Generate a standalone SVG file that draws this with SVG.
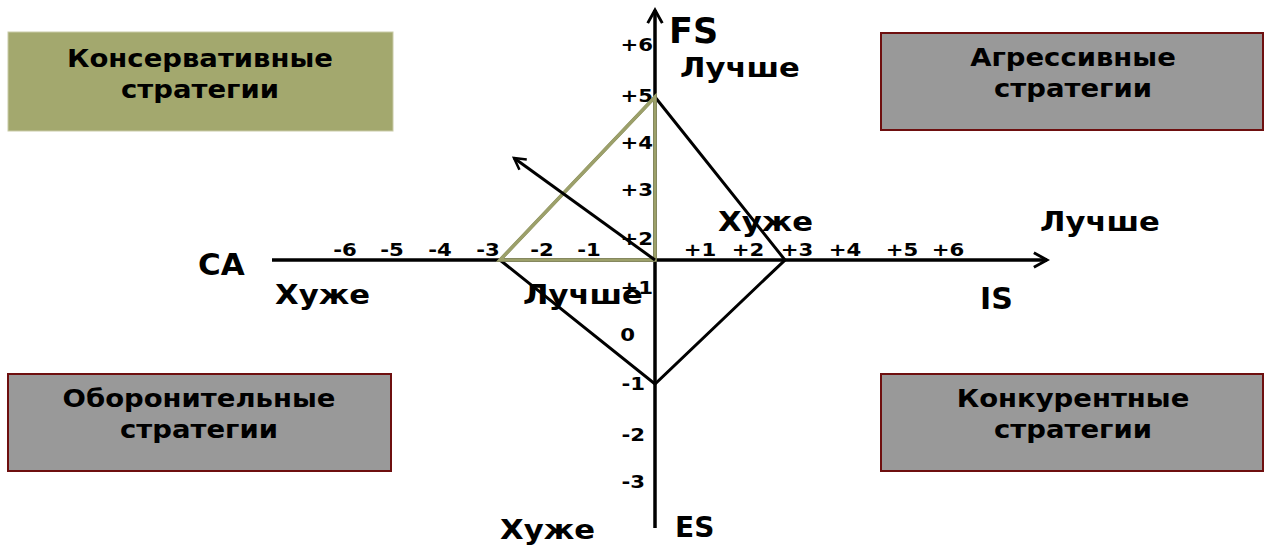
<svg xmlns="http://www.w3.org/2000/svg" width="1268" height="546" viewBox="0 0 1268 546">
<style>
text{font-family:"DejaVu Sans","Liberation Sans",sans-serif;font-weight:bold;fill:#000}
.box{fill:#999999;stroke:#6e0f0f;stroke-width:2}
.boxg{fill:#a3a86e;stroke:#c9cba8;stroke-width:1}
.bt{font-size:25px;text-anchor:middle}
.tk{font-size:18px;text-anchor:middle}
.tv{font-size:18px;text-anchor:end}
.lb{font-size:26px}
.ax{stroke:#000;stroke-width:3.5;fill:none}
.ln{stroke:#000;stroke-width:3;fill:none}
.gr{stroke:#9ca06a;stroke-width:3.5;fill:none}
</style>
<defs>
<marker id="arr" viewBox="0 0 12 12" refX="10" refY="6" markerWidth="5" markerHeight="5" orient="auto" markerUnits="strokeWidth">
<path d="M1,1 L10,6 L1,11" fill="none" stroke="#000" stroke-width="2"/>
</marker>
</defs>
<g id="box-conservative"><rect class="boxg" x="8" y="32" width="385" height="99"/><text class="bt" transform="translate(200,67) scale(1.1,1)">Консервативные</text><text class="bt" transform="translate(200,98) scale(1.1,1)">стратегии</text></g>
<g id="box-aggressive"><rect class="box" x="881" y="33" width="382" height="97"/><text class="bt" transform="translate(1073,66) scale(1.1,1)">Агрессивные</text><text class="bt" transform="translate(1073,97) scale(1.1,1)">стратегии</text></g>
<g id="box-defensive"><rect class="box" x="8" y="374" width="383" height="97"/><text class="bt" transform="translate(199,407) scale(1.1,1)">Оборонительные</text><text class="bt" transform="translate(199,438) scale(1.1,1)">стратегии</text></g>
<g id="box-competitive"><rect class="box" x="881" y="374" width="382" height="97"/><text class="bt" transform="translate(1073,407) scale(1.1,1)">Конкурентные</text><text class="bt" transform="translate(1073,438) scale(1.1,1)">стратегии</text></g>
<g id="labels">
<text class="lb" x="198" y="275" style="font-size:31px">CA</text>
<text class="lb" transform="translate(275,304) scale(1.18,1)">Хуже</text>
<text class="lb" transform="translate(523,304) scale(1.18,1)">Лучше</text>
<text class="lb" x="980" y="309" style="font-size:30px">IS</text>
<text class="lb" transform="translate(718,231) scale(1.18,1)">Хуже</text>
<text class="lb" transform="translate(1040,231) scale(1.18,1)">Лучше</text>
<text class="lb" transform="translate(680,77) scale(1.18,1)">Лучше</text>
<text class="lb" x="669" y="43" style="font-size:35px">FS</text>
<text class="lb" x="675" y="537" style="font-size:28px">ES</text>
<text class="lb" transform="translate(500,539) scale(1.18,1)">Хуже</text>
</g>
<g id="ticks">
<text class="tk" transform="translate(345,256) scale(1.18,1)">-6</text><text class="tk" transform="translate(392,256) scale(1.18,1)">-5</text><text class="tk" transform="translate(440,256) scale(1.18,1)">-4</text><text class="tk" transform="translate(488,256) scale(1.18,1)">-3</text><text class="tk" transform="translate(542,256) scale(1.18,1)">-2</text><text class="tk" transform="translate(589,256) scale(1.18,1)">-1</text>
<text class="tk" transform="translate(700,256) scale(1.18,1)">+1</text><text class="tk" transform="translate(748,256) scale(1.18,1)">+2</text><text class="tk" transform="translate(797,256) scale(1.18,1)">+3</text><text class="tk" transform="translate(845,256) scale(1.18,1)">+4</text><text class="tk" transform="translate(902,256) scale(1.18,1)">+5</text><text class="tk" transform="translate(948,256) scale(1.18,1)">+6</text>
<text class="tv" transform="translate(653,51) scale(1.18,1)">+6</text><text class="tv" transform="translate(653,102) scale(1.18,1)">+5</text><text class="tv" transform="translate(653,149) scale(1.18,1)">+4</text><text class="tv" transform="translate(653,196) scale(1.18,1)">+3</text><text class="tv" transform="translate(653,245) scale(1.18,1)">+2</text><text class="tv" transform="translate(653,294) scale(1.18,1)">+1</text><text class="tv" transform="translate(635,341) scale(1.18,1)">0</text><text class="tv" transform="translate(645,390) scale(1.18,1)">-1</text><text class="tv" transform="translate(645,441) scale(1.18,1)">-2</text><text class="tv" transform="translate(645,488) scale(1.18,1)">-3</text>
</g>
<g id="connectors">
<line class="ax" x1="272" y1="260" x2="1047" y2="260" marker-end="url(#arr)"/>
<line class="ax" x1="655" y1="528" x2="655" y2="10" marker-end="url(#arr)"/>
<polygon class="ln" points="655,97 785,260 655,384 500,260"/>
<polygon class="gr" points="500,260 655,97 655,260"/>
<line class="ln" x1="655" y1="260" x2="514" y2="158" marker-end="url(#arr)"/>
</g>
</svg>
